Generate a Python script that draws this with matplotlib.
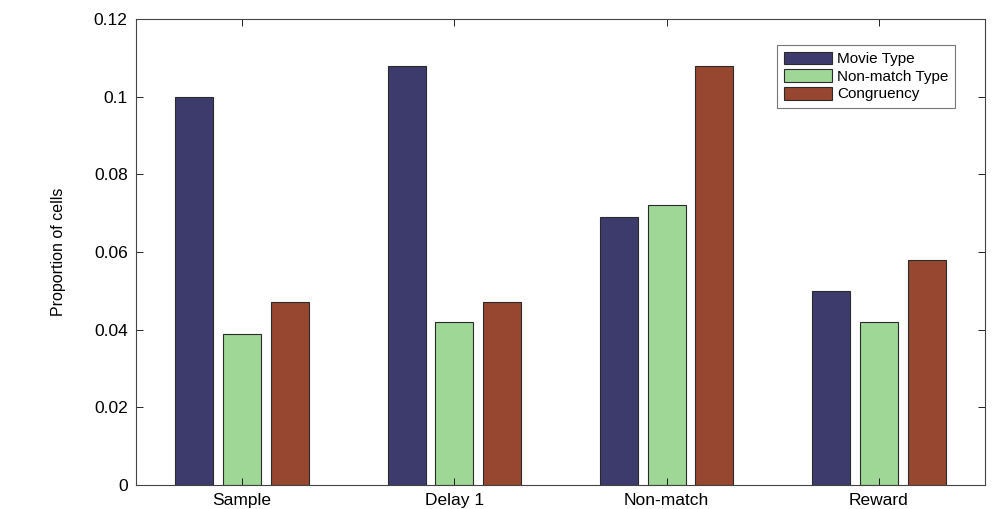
import numpy as np
import matplotlib.pyplot as plt

plt.rcParams['font.family'] = ['Liberation Sans', 'DejaVu Sans']

categories = ["Sample", "Delay 1", "Non-match", "Reward"]
series_names = ["Movie Type", "Non-match Type", "Congruency"]
movie_type = [0.100, 0.108, 0.069, 0.050]
nonmatch_type = [0.039, 0.042, 0.072, 0.042]
congruency = [0.047, 0.047, 0.108, 0.058]
colors = ["#3d3b6c", "#9fd797", "#97472f"]

fig = plt.figure(figsize=(10.08, 5.09), dpi=100)
ax = fig.add_axes([136 / 1008, 1 - 485 / 509, (985 - 136) / 1008, (485 - 19) / 509])

x = np.arange(1, len(categories) + 1)
width = 0.18
offsets = [-0.225, 0, 0.225]
for vals, name, col, off in zip([movie_type, nonmatch_type, congruency], series_names, colors, offsets):
    ax.bar(x + off, vals, width, color=col, edgecolor="#2a2a2a", linewidth=0.8, label=name)

ax.set_xlim(0.5, 4.5)
ax.set_ylim(0, 0.12)
ax.set_xticks(x)
ax.set_xticklabels(categories)
ax.set_yticks([0, 0.02, 0.04, 0.06, 0.08, 0.1, 0.12])
ax.set_yticklabels(["0", "0.02", "0.04", "0.06", "0.08", "0.1", "0.12"])
ax.set_ylabel("Proportion of cells", fontsize=11.5)
ax.yaxis.set_label_coords(-0.082, 0.5)
ax.tick_params(direction="in", top=True, right=True, labelsize=12.5, length=5, width=0.6, pad=6)
for s in ax.spines.values():
    s.set_linewidth(0.8)
    s.set_color("#444444")

leg = ax.legend(loc="upper right", bbox_to_anchor=(0.965, 0.945), fontsize=11, frameon=True,
                fancybox=False, edgecolor="#555555", handlelength=3.2, handleheight=0.9,
                handletextpad=0.3, labelspacing=0.2, borderpad=0.45, borderaxespad=0)
leg.get_frame().set_linewidth(0.8)

fig.savefig("out.png", dpi=100)
